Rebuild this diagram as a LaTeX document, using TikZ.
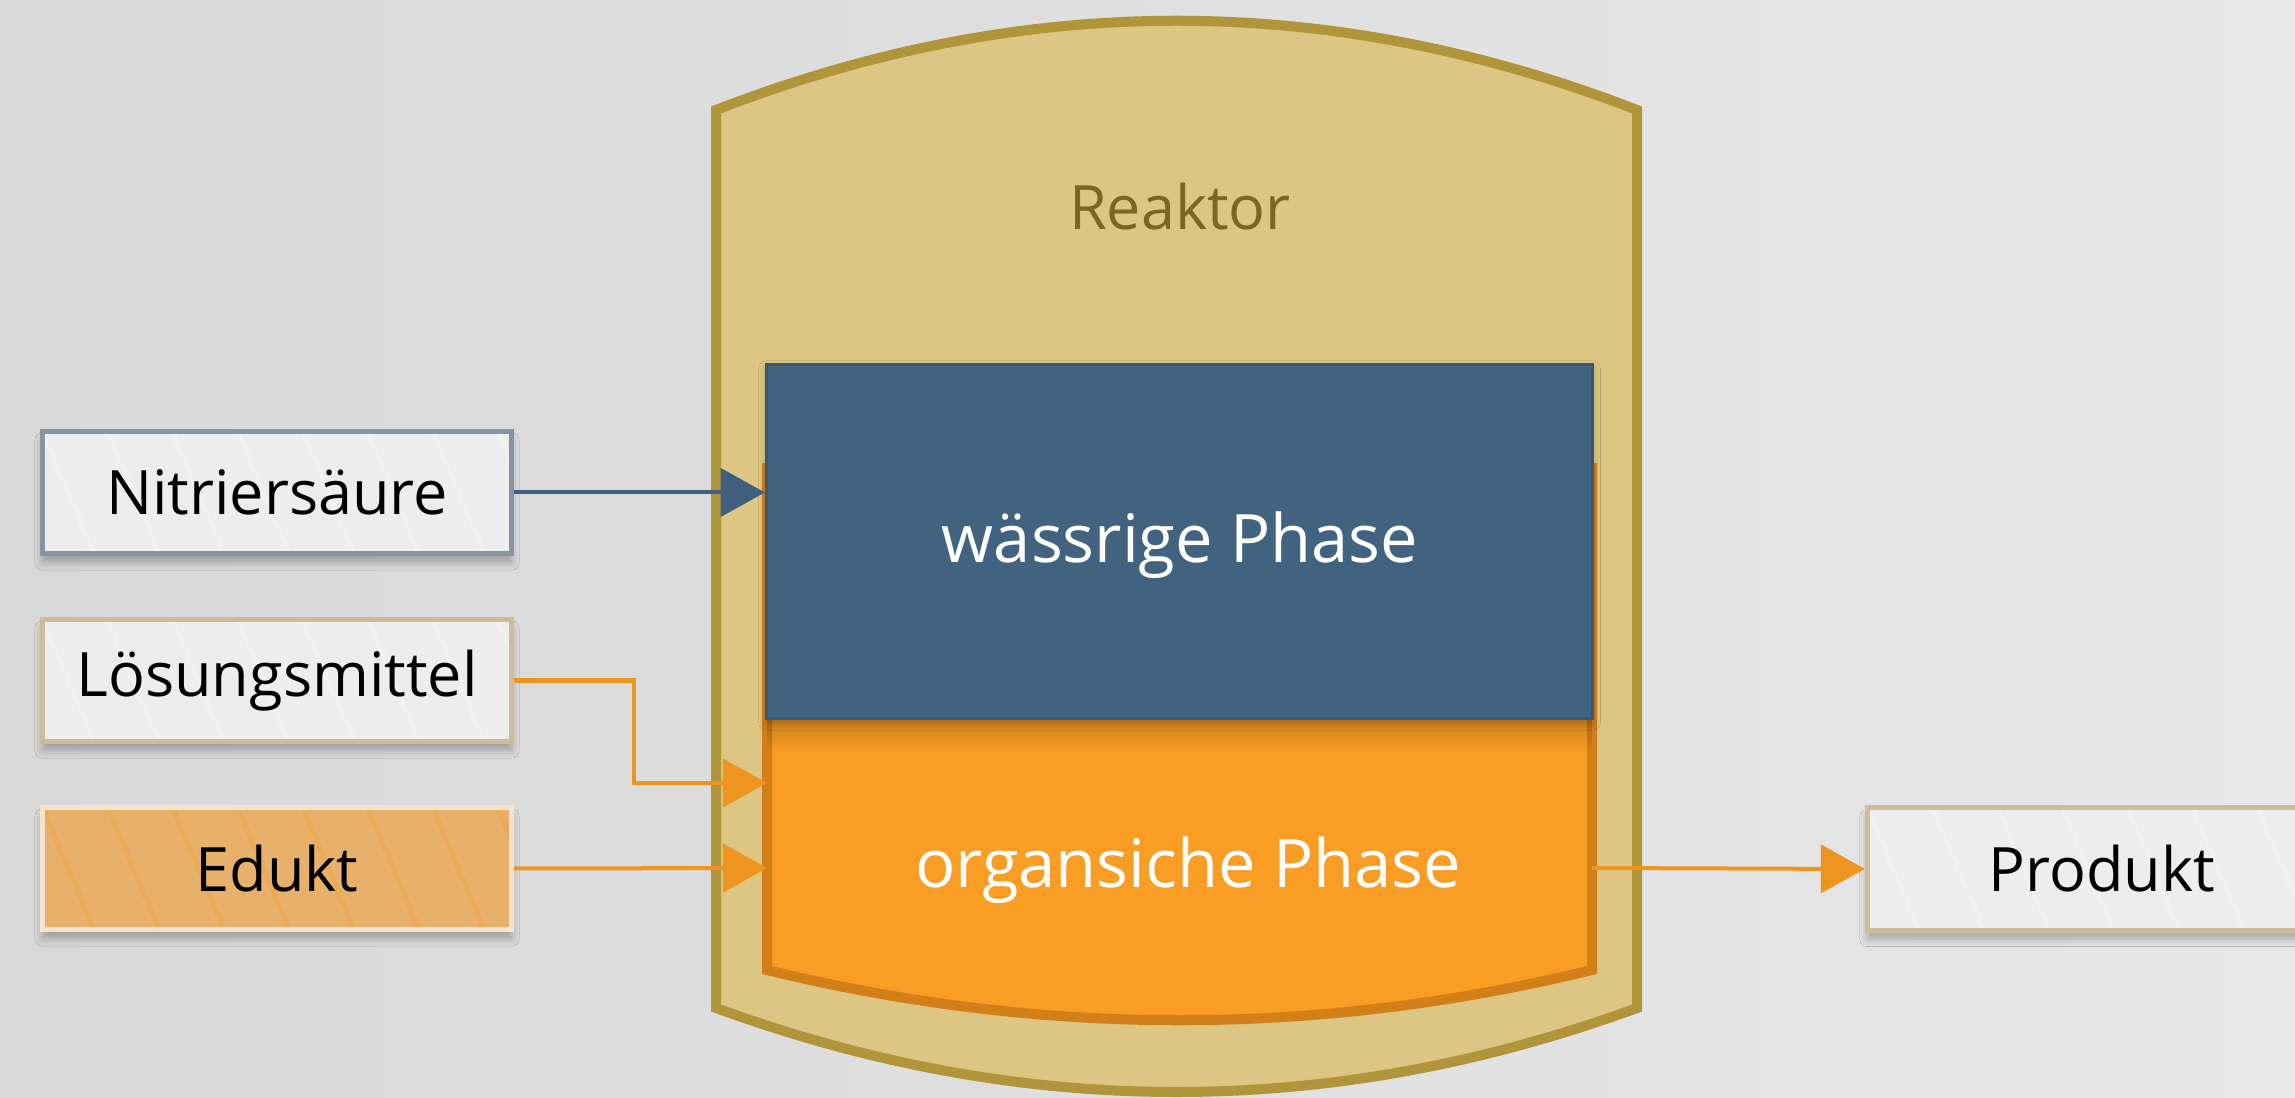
\documentclass[tikz,border=0pt]{standalone}
\usepackage{fontspec}
\setmainfont{Open Sans}
\usetikzlibrary{arrows.meta,shadows.blur,fadings}

\definecolor{bgL}{HTML}{D8D8D8}
\definecolor{bgR}{HTML}{E7E7E7}
\definecolor{vessel}{HTML}{DDC683}
\definecolor{vesselrim}{HTML}{B0953A}
\definecolor{vesseltext}{HTML}{7A6629}
\definecolor{aqua}{HTML}{42637F}
\definecolor{aquarim}{HTML}{3A5873}
\definecolor{org}{HTML}{F99D24}
\definecolor{orgrim}{HTML}{D27F19}
\definecolor{flowblue}{HTML}{3F5F7E}
\definecolor{floworange}{HTML}{EE9520}
\definecolor{boxfill}{HTML}{EDEDED}
\definecolor{boxstripe}{HTML}{F1F1F1}
\definecolor{rimblue}{HTML}{8795A3}
\definecolor{rimtan}{HTML}{D1BA97}
\definecolor{edfill}{HTML}{E7B06B}
\definecolor{edstripe}{HTML}{EBAA55}
\definecolor{edrim}{HTML}{F4E4CF}

\tikzset{
  stripes/.style={path picture={
      \foreach \k in {-2,...,8}{
        \draw[#1, line width=0.05cm]
          ([xshift=\k*0.65cm]path picture bounding box.north west) -- ++(0.55cm,-1.3cm);
      }}},
  feed/.style={draw, line width=0.05cm, minimum width=4.69cm, minimum height=1.22cm,
    inner sep=0pt, text=black, font=\fontsize{17.4}{20}\selectfont,
    blur shadow={shadow xshift=0cm, shadow yshift=-0.09cm, shadow blur steps=10, shadow opacity=28}},
  plainfeed/.style={feed, fill=boxfill, stripes=boxstripe},
  phaselabel/.style={text=white, font=\fontsize{19}{23}\selectfont},
  flow/.style={line width=0.04cm, -{Triangle[length=0.44cm,width=0.48cm]}},
}

\begin{document}
\begin{tikzpicture}[x=0.01cm, y=-0.01cm]
  \useasboundingbox (0,0) rectangle (2295,1098);
  \clip (0,0) rectangle (2295,1098);
  \shade[left color=bgL, right color=bgR] (0,0) rectangle (2295,1098);

  % reactor vessel
  \draw[vesselrim, fill=vessel, line width=0.1cm]
    (716,110) .. controls (1023,-9) and (1330,-9) .. (1637,110)
    -- (1637,1008) .. controls (1330,1120) and (1023,1120) .. (716,1008) -- cycle;
  \node[text=vesseltext, font=\fontsize{17.4}{20}\selectfont] (reaktor) at (1180,207) {Reaktor};

  % organic phase (lower layer)
  \fill[org] (767,463) -- (767,970) .. controls (1042,1037) and (1317,1037) .. (1592,970) -- (1592,463) -- cycle;
  \draw[orgrim, line width=0.1cm]
    (767,463) -- (767,970) .. controls (1042,1037) and (1317,1037) .. (1592,970) -- (1592,463);
  \fill[black, opacity=0.18, path fading=south] (767,720) rectangle (1592,752);

  % aqueous phase (upper layer)
  \node[draw=aquarim, line width=0.03cm, fill=aqua, minimum width=8.26cm, minimum height=3.54cm,
        blur shadow={shadow xshift=0cm, shadow yshift=-0.04cm, shadow blur steps=10, shadow opacity=22},
        phaselabel] (aq) at (1179.5,541.5) {};
  \node[phaselabel] (aqlabel) at (1180,545) {wässrige Phase};
  \node[phaselabel] (orglabel) at (1188,870) {organsiche Phase};
  \coordinate (orgW1) at (767,783);
  \coordinate (orgW2) at (767,868);
  \coordinate (orgE) at (1592,868);
  \coordinate (elbow) at (634,783);

  % feed and product boxes
  \node[plainfeed, draw=rimblue] (nitr) at (277,492.5) {Nitriersäure};
  \node[plainfeed, draw=rimtan] (loes) at (277,680.5) {Lösungsmittel};
  \node[feed, draw=edrim, fill=edfill, stripes=edstripe] (edukt) at (277,868.5) {Edukt};
  \node[plainfeed, draw=rimtan] (prod) at (2102,869) {Produkt};

  % flows
  \draw[flow, flowblue] (nitr.east) -- (nitr.east -| aq.west);
  \draw[flow, floworange] (loes.east) -| (elbow) -- (orgW1);
  \draw[flow, floworange] (edukt.east) -- (orgW2);
  \draw[flow, floworange] (orgE) -- (prod.west);
\end{tikzpicture}
\end{document}
